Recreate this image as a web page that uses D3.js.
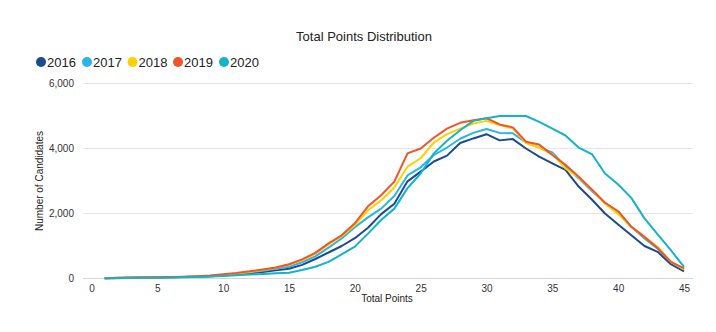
<!DOCTYPE html>
<html>
<head>
<meta charset="utf-8">
<script src="https://cdn.jsdelivr.net/npm/d3@7"></script>
<style>
  html, body { margin: 0; padding: 0; background: #fff; }
  svg { display: block; font-family: "Liberation Sans", Arial, sans-serif; }
</style>
</head>
<body>
<svg id="chart" width="716" height="332"></svg>
<script>
// points scored (x axis)
var points = d3.range(1, 46);

var years = ["2016", "2017", "2018", "2019", "2020"];
var colors = ["#1a4b8e", "#2ab4e8", "#ffd000", "#f0552a", "#14b3c7"];

// number of candidates per total points, one array per year
var counts2016 = [10, 15, 20, 25, 30, 35, 45, 55, 70, 95, 120, 160, 200, 250, 300, 420, 600, 800, 1000, 1240,
  1560, 1980, 2300, 2990, 3290, 3600, 3780, 4170, 4310, 4440, 4250, 4290, 4000, 3750, 3540, 3340, 2830, 2430, 2000, 1660,
  1330, 1000, 820, 440, 220];
var counts2017 = [10, 15, 20, 25, 30, 40, 50, 60, 80, 110, 140, 190, 240, 300, 360, 500, 680, 950, 1230, 1580,
  1880, 2150, 2540, 3170, 3420, 3800, 4030, 4300, 4480, 4600, 4480, 4470, 4180, 4030, 3880, 3450, 3080, 2690, 2330, 2050,
  1590, 1230, 920, 510, 280];
var counts2018 = [10, 20, 25, 30, 35, 40, 50, 60, 80, 110, 150, 200, 260, 330, 420, 560, 760, 1050, 1300, 1640,
  2100, 2410, 2800, 3440, 3700, 4180, 4440, 4610, 4770, 4850, 4720, 4620, 4170, 4030, 3820, 3390, 3110, 2720, 2310, 1980,
  1590, 1280, 970, 510, 280];
var counts2019 = [10, 20, 30, 35, 40, 45, 55, 70, 90, 130, 170, 220, 280, 340, 440, 590, 790, 1080, 1330, 1700,
  2220, 2560, 2980, 3850, 4000, 4330, 4610, 4790, 4870, 4930, 4740, 4650, 4210, 4120, 3800, 3500, 3130, 2740, 2330, 2070,
  1590, 1280, 940, 510, 310];
var counts2020 = [5, 10, 15, 20, 25, 30, 35, 45, 60, 80, 100, 120, 140, 160, 175, 260, 360, 510, 740, 980,
  1380, 1800, 2150, 2780, 3230, 3850, 4240, 4560, 4850, 4930, 5000, 5000, 5000, 4820, 4610, 4400, 4030, 3830, 3230, 2890,
  2480, 1850, 1360, 870, 360];

var xTicks = [0, 5, 10, 15, 20, 25, 30, 35, 40, 45];
var yTicks = [0, 2000, 4000, 6000];

var series = [counts2016, counts2017, counts2018, counts2019, counts2020];

var svg = d3.select("#chart");

var x = d3.scaleLinear().domain([0, 45]).range([91.5, 684]);
var y = d3.scaleLinear().domain([0, 6000]).range([278.5, 83.5]);

// title
svg.append("text")
  .attr("x", 364).attr("y", 41)
  .attr("text-anchor", "middle")
  .attr("font-size", 13)
  .attr("fill", "#222")
  .text("Total Points Distribution");

// legend
var legend = svg.append("g");
var legendX = [41, 87, 132.5, 178, 224];
years.forEach(function(yr, i) {
  legend.append("circle")
    .attr("cx", legendX[i]).attr("cy", 62).attr("r", 5)
    .attr("fill", colors[i]);
  legend.append("text")
    .attr("x", legendX[i] + 6).attr("y", 66.5)
    .attr("font-size", 13)
    .attr("fill", "#222")
    .text(yr);
});

// gridlines
svg.append("g")
  .selectAll("line")
  .data(yTicks)
  .enter()
  .append("line")
  .attr("x1", 83).attr("x2", 693)
  .attr("y1", function(d) { return y(d); })
  .attr("y2", function(d) { return y(d); })
  .attr("stroke", function(d) { return d === 0 ? "#d6d6d6" : "#e6e6e6"; })
  .attr("stroke-width", 1);

// y tick labels
var yAxis = d3.axisLeft(y).tickValues(yTicks).tickFormat(d3.format(",")).tickSize(0).tickPadding(0);
svg.append("g")
  .attr("transform", "translate(74,0)")
  .call(yAxis)
  .call(function(g) { g.select(".domain").remove(); })
  .selectAll("text")
  .attr("font-size", 10)
  .attr("font-family", "Liberation Sans, Arial, sans-serif")
  .attr("fill", "#333");

// x tick labels
var xAxis = d3.axisBottom(x).tickValues(xTicks).tickSize(0).tickPadding(0);
svg.append("g")
  .attr("transform", "translate(0,285)")
  .call(xAxis)
  .call(function(g) { g.select(".domain").remove(); })
  .selectAll("text")
  .attr("font-size", 10)
  .attr("font-family", "Liberation Sans, Arial, sans-serif")
  .attr("fill", "#333");

// axis titles
svg.append("text")
  .attr("x", 387).attr("y", 302)
  .attr("text-anchor", "middle")
  .attr("font-size", 10)
  .attr("fill", "#222")
  .text("Total Points");

svg.append("text")
  .attr("transform", "translate(43,181) rotate(-90)")
  .attr("text-anchor", "middle")
  .attr("font-size", 10)
  .attr("fill", "#222")
  .text("Number of Candidates");

// lines
var line = d3.line()
  .x(function(d, i) { return x(points[i]); })
  .y(function(d) { return y(d); });

series.forEach(function(s, i) {
  svg.append("path")
    .datum(s)
    .attr("fill", "none")
    .attr("stroke", colors[i])
    .attr("stroke-width", 2)
    .attr("stroke-linejoin", "round")
    .attr("d", line);
});
</script>
</body>
</html>
